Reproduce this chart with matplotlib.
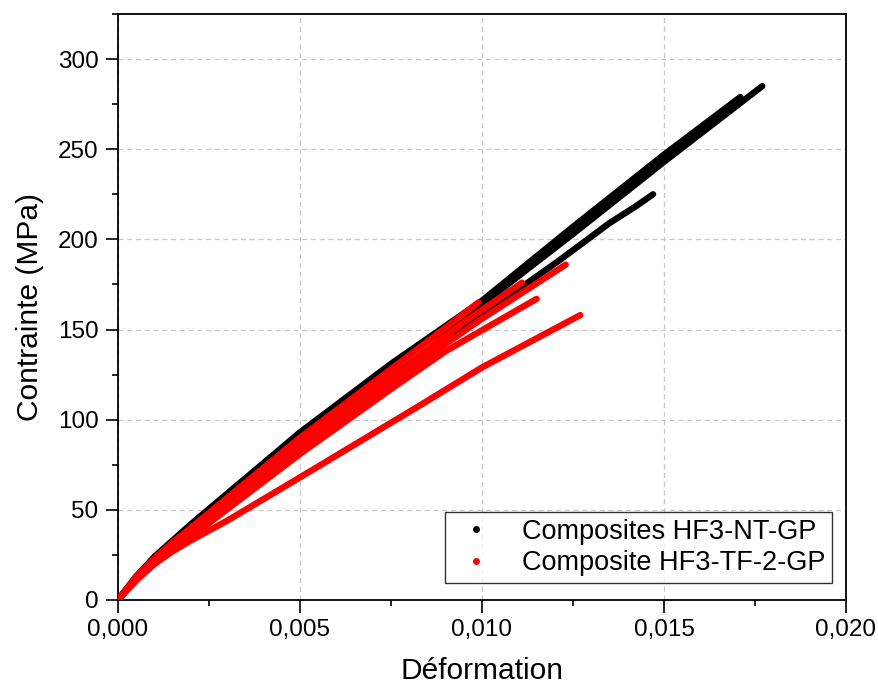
import matplotlib
matplotlib.use("Agg")
import matplotlib.pyplot as plt
from matplotlib.ticker import MultipleLocator, FuncFormatter
from matplotlib.lines import Line2D

plt.rcParams['font.family'] = ['Liberation Sans', 'DejaVu Sans']

# ---- data: black series (Composites HF3-NT-GP) ----
b1_strain = [0.0, 0.0005, 0.001, 0.0015, 0.002, 0.003, 0.005, 0.0075, 0.010, 0.0125, 0.015, 0.0177]
b1_stress = [0, 13, 23, 32, 41, 58, 92, 130, 164, 203, 243, 285]
b2_strain = [0.0, 0.0005, 0.001, 0.0015, 0.002, 0.003, 0.005, 0.0075, 0.010, 0.0125, 0.015, 0.0171]
b2_stress = [0, 13, 24, 33, 42, 59, 93, 131, 166, 207, 247, 279]
b3_strain = [0.0, 0.0005, 0.001, 0.0015, 0.002, 0.005, 0.0075, 0.010, 0.0121, 0.0135, 0.0142, 0.0147]
b3_stress = [0, 12, 22, 31, 39, 86, 122, 158, 188, 209, 218, 225]

# ---- data: red series (Composite HF3-TF-2-GP) ----
r1_strain = [0.0, 0.0005, 0.001, 0.0015, 0.002, 0.003, 0.005, 0.0075, 0.010, 0.0123]
r1_stress = [0, 12, 21, 29, 37, 52, 84, 121, 156, 186]
r2_strain = [0.0, 0.0005, 0.001, 0.0015, 0.002, 0.005, 0.0075, 0.009, 0.0115]
r2_stress = [0, 11, 20, 28, 35, 81, 117, 138, 167]
r3_strain = [0.0, 0.0005, 0.001, 0.0015, 0.002, 0.003, 0.005, 0.0083, 0.010, 0.0127]
r3_stress = [0, 11, 20, 27, 33, 44, 68, 108, 129, 158]
r4_strain = [0.0, 0.0005, 0.001, 0.0015, 0.002, 0.005, 0.0075, 0.009, 0.0099]
r4_stress = [0, 13, 23, 32, 40, 90, 128, 151, 165]
r5_strain = [0.0, 0.0005, 0.001, 0.0015, 0.002, 0.005, 0.0075, 0.0095, 0.0111]
r5_stress = [0, 12, 22, 30, 38, 87, 124, 154, 176]
r6_strain = [0.0, 0.0005, 0.001, 0.0015, 0.002, 0.005, 0.0075, 0.0092]
r6_stress = [0, 12, 21, 29, 36, 84, 120, 146]

black_curves = [(b1_strain, b1_stress), (b2_strain, b2_stress), (b3_strain, b3_stress)]
red_curves = [(r1_strain, r1_stress), (r2_strain, r2_stress), (r3_strain, r3_stress),
              (r4_strain, r4_stress), (r5_strain, r5_stress), (r6_strain, r6_stress)]

labels = ["Composites HF3-NT-GP", "Composite HF3-TF-2-GP"]
x_ticks = [0.0, 0.005, 0.010, 0.015, 0.020]
y_ticks = [0, 50, 100, 150, 200, 250, 300]

fig = plt.figure(figsize=(8.79, 6.88), dpi=100)
ax = fig.add_axes([118/879, 88/688, (846-118)/879, (600-14)/688])

for xs, ys in black_curves:
    ax.plot(xs, ys, color='black', lw=4.6, solid_capstyle='round', solid_joinstyle='round', zorder=3)
for xs, ys in red_curves:
    ax.plot(xs, ys, color='#ff0000', lw=4.6, solid_capstyle='round', solid_joinstyle='round', zorder=4)

ax.set_xlim(0, 0.020)
ax.set_ylim(0, 325)
ax.set_xticks(x_ticks)
ax.set_yticks(y_ticks)
ax.xaxis.set_minor_locator(MultipleLocator(0.0025))
ax.yaxis.set_minor_locator(MultipleLocator(25))
ax.xaxis.set_major_formatter(FuncFormatter(lambda v, p: f"{v:.3f}".replace('.', ',')))

ax.grid(True, which='major', color='#c8c8c8', linestyle=(0, (4, 3)), lw=0.9, zorder=0)
ax.tick_params(which='major', direction='out', length=9, width=1.2, labelsize=17.5, pad=5)
ax.tick_params(which='minor', direction='out', length=4.5, width=1.2)
for s in ax.spines.values():
    s.set_linewidth(1.3)

ax.set_xlabel("Déformation", fontsize=21.5, labelpad=11)
ax.set_ylabel("Contrainte (MPa)", fontsize=21.5, labelpad=10)

handles = [Line2D([], [], color='black', marker='o', markersize=4, linestyle='none'),
           Line2D([], [], color='#ff0000', marker='o', markersize=4, linestyle='none')]
leg = ax.legend(handles, labels, loc='lower right', bbox_to_anchor=(0.981, 0.029),
                fontsize=19.5, frameon=True, fancybox=False, borderpad=0.25,
                handletextpad=0.8, labelspacing=0.2, borderaxespad=0, handlelength=1.8)
leg.get_frame().set_edgecolor('black')
leg.get_frame().set_linewidth(1.0)
leg.set_zorder(5)

fig.savefig("out.png", dpi=100)
